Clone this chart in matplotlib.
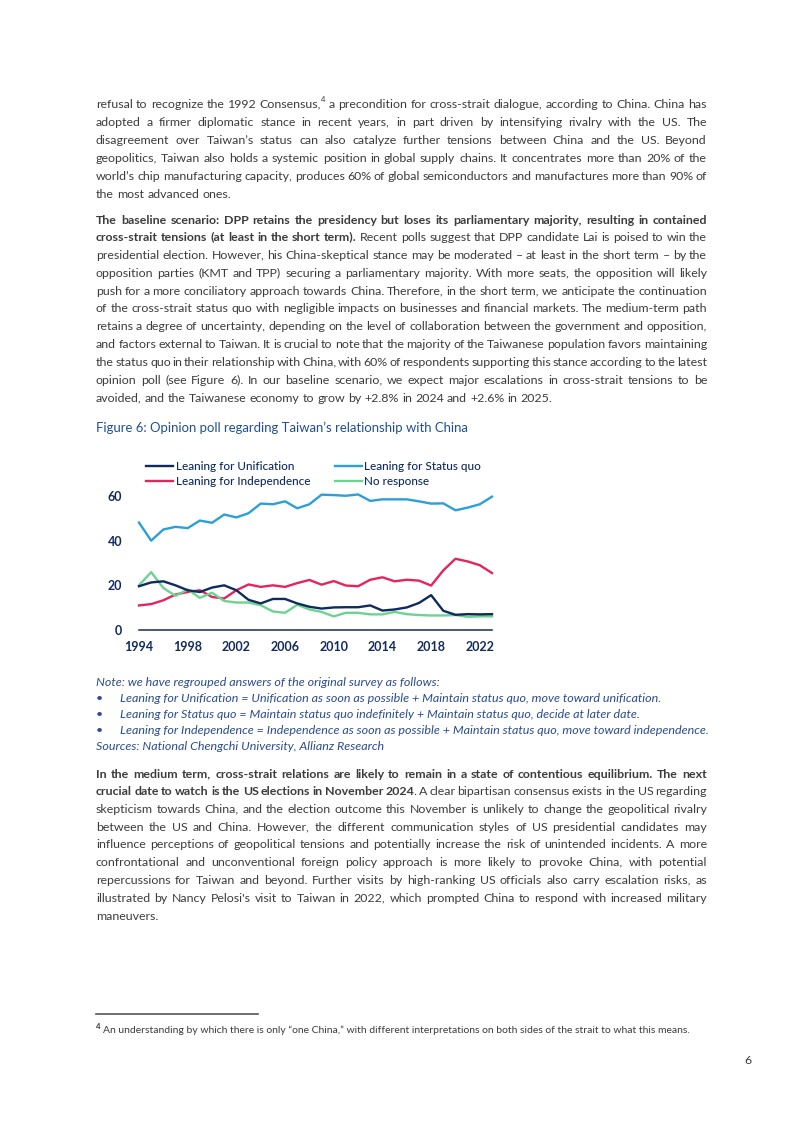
import math
import matplotlib
matplotlib.use('Agg')
import matplotlib.pyplot as plt
from matplotlib.font_manager import FontProperties

# ---------------- data ----------------
years = list(range(1994, 2024))
unification = [19.6, 21.3, 21.8, 20.0, 17.8, 17.0, 19.0, 20.0, 17.8, 13.5,
               11.9, 13.9, 13.9, 11.9, 10.4, 9.6, 10.1, 10.2, 10.2, 11.0,
               8.7, 9.2, 10.1, 12.1, 15.6, 8.6, 6.8, 7.1, 7.0, 7.1]
status_quo = [48.1, 40.0, 45.0, 46.2, 45.6, 49.0, 48.0, 51.7, 50.4, 52.3,
              56.6, 56.3, 57.6, 54.5, 56.3, 60.6, 60.4, 60.1, 60.7, 57.8,
              58.5, 58.5, 58.5, 57.6, 56.6, 56.7, 53.6, 54.8, 56.3, 59.7]
independence = [11.0, 11.6, 13.3, 15.9, 17.0, 17.8, 14.8, 14.1, 17.8, 20.4,
                19.3, 20.0, 19.3, 21.0, 22.4, 20.3, 21.9, 19.9, 19.6, 22.5,
                23.6, 21.8, 22.5, 22.1, 19.9, 26.7, 31.9, 30.7, 29.0, 25.5]
no_response = [20.0, 25.9, 18.8, 15.3, 18.1, 14.4, 16.7, 13.0, 12.3, 12.3,
               11.1, 8.3, 7.7, 11.3, 9.2, 8.1, 6.1, 7.7, 7.7, 7.0,
               7.0, 8.1, 7.1, 6.7, 6.5, 6.5, 6.7, 5.9, 6.1, 6.1]
series_labels = ['Leaning for Unification', 'Leaning for Independence',
                 'Leaning for Status quo', 'No response']
x_ticks = [1994, 1998, 2002, 2006, 2010, 2014, 2018, 2022]
y_ticks = [0, 20, 40, 60]

para1 = [
    "refusal to recognize the 1992 Consensus,^4^ a precondition for cross-strait dialogue, according to China. China has",
    "adopted a firmer diplomatic stance in recent years, in part driven by intensifying rivalry with the US. The",
    "disagreement over Taiwan\u2019s status can also catalyze further tensions between China and the US. Beyond",
    "geopolitics, Taiwan also holds a systemic position in global supply chains. It concentrates more than 20% of the",
    "world\u2019s chip manufacturing capacity, produces 60% of global semiconductors and manufactures more than 90% of",
    "the most advanced ones.",
]
para2 = [
    "**The baseline scenario: DPP retains the presidency but loses its parliamentary majority, resulting in contained**",
    "**cross-strait tensions (at least in the short term).** Recent polls suggest that DPP candidate Lai is poised to win the",
    "presidential election. However, his China-skeptical stance may be moderated \u2013 at least in the short term \u2013 by the",
    "opposition parties (KMT and TPP) securing a parliamentary majority. With more seats, the opposition will likely",
    "push for a more conciliatory approach towards China. Therefore, in the short term, we anticipate the continuation",
    "of the cross-strait status quo with negligible impacts on businesses and financial markets. The medium-term path",
    "retains a degree of uncertainty, depending on the level of collaboration between the government and opposition,",
    "and factors external to Taiwan. It is crucial to note that the majority of the Taiwanese population favors maintaining",
    "the status quo in their relationship with China, with 60% of respondents supporting this stance according to the latest",
    "opinion poll (see Figure 6). In our baseline scenario, we expect major escalations in cross-strait tensions to be",
    "avoided, and the Taiwanese economy to grow by +2.8% in 2024 and +2.6% in 2025.",
]
para3 = [
    "**In the medium term, cross-strait relations are likely to remain in a state of contentious equilibrium. The next**",
    "**crucial date to watch is the US elections in November 2024**. A clear bipartisan consensus exists in the US regarding",
    "skepticism towards China, and the election outcome this November is unlikely to change the geopolitical rivalry",
    "between the US and China. However, the different communication styles of US presidential candidates may",
    "influence perceptions of geopolitical tensions and potentially increase the risk of unintended incidents. A more",
    "confrontational and unconventional foreign policy approach is more likely to provoke China, with potential",
    "repercussions for Taiwan and beyond. Further visits by high-ranking US officials also carry escalation risks, as",
    "illustrated by Nancy Pelosi's visit to Taiwan in 2022, which prompted China to respond with increased military",
    "maneuvers.",
]
fig_title = "Figure 6: Opinion poll regarding Taiwan\u2019s relationship with China"
note_head = "Note: we have regrouped answers of the original survey as follows:"
note_bullets = [
    "Leaning for Unification = Unification as soon as possible + Maintain status quo, move toward unification.",
    "Leaning for Status quo = Maintain status quo indefinitely + Maintain status quo, decide at later date.",
    "Leaning for Independence = Independence as soon as possible + Maintain status quo, move toward independence.",
]
sources = "Sources: National Chengchi University, Allianz Research"
footnote = "An understanding by which there is only \u201cone China,\u201d with different interpretations on both sides of the strait to what this means."

# ---------------- styles ----------------
FAM = 'Lato'
TEXT_C = '#3c3c3c'
NAVY = '#122b5f'
NOTE_C = '#2c4c8c'
TITLE_C = '#1f4f92'
C_UNI = '#0f2a5f'
C_SQ = '#2a9fd8'
C_IND = '#e6245c'
C_NR = '#6cd390'

fig = plt.figure(figsize=(8.02, 11.33), dpi=100)
page = fig.add_axes([0, 0, 1, 1])
page.set_xlim(0, 802)
page.set_ylim(1133, 0)
page.axis('off')
renderer = fig.canvas.get_renderer()


def fp(size, weight='normal', style='normal'):
    return FontProperties(family=FAM, size=size, weight=weight, style=style)


def metrics(s, prop):
    return renderer.get_text_width_height_descent(s, prop, ismath=False)


def width(s, prop):
    return metrics(s, prop)[0]


def fit(text, target, weight='normal', style='normal'):
    return 10.0 * target / width(text, fp(10, weight, style))


def put_text(x, y, s, prop, color):
    """Place a one-line text with its baseline on pixel row y, compensating
    the per-string raster rounding so neighbouring words share a baseline."""
    w, h, d = metrics(s, prop)
    Y = int(round(y))
    a = h - d
    err = (round(Y + d) - Y) - math.floor(h + 1e-9) + math.floor(a + 1e-9)
    page.text(x, Y - err, s, fontproperties=prop, color=color,
              va='baseline', ha='left')


def parse(line):
    words, cur, buf = [], [], ''
    bold = sup = False
    i = 0
    while i < len(line):
        if line.startswith('**', i):
            if buf:
                cur.append((buf, bold, sup)); buf = ''
            bold = not bold; i += 2; continue
        c = line[i]
        if c == '^':
            if buf:
                cur.append((buf, bold, sup)); buf = ''
            sup = not sup; i += 1; continue
        if c == ' ':
            if buf:
                cur.append((buf, bold, sup)); buf = ''
            if cur:
                words.append(cur); cur = []
            i += 1; continue
        buf += c; i += 1
    if buf:
        cur.append((buf, bold, sup))
    if cur:
        words.append(cur)
    return words


def piece_prop(bold, sup, size, style):
    return fp(size * 0.62 if sup else size, 'bold' if bold else 'normal', style)


def piece_steps(w, size, style):
    """x offsets of the pieces of one word, and the word's total width."""
    offs, x = [], 0.0
    for j, (t, b, s) in enumerate(w):
        pr = piece_prop(b, s, size, style)
        if j > 0 and t[0] in '.,;:':
            x -= 0.11 * size * 100 / 72  # tuck punctuation against prior run
        offs.append(x)
        x += width(t, pr)
    return offs, x


def natural_width(line, size, style='normal'):
    words = parse(line)
    ws = [piece_steps(w, size, style)[1] for w in words]
    sp = width('a b', fp(size, style=style)) - width('ab', fp(size, style=style))
    return sum(ws) + sp * (len(words) - 1)


def draw_line(line, x0, x1, y, size, color, justify=True, style='normal'):
    words = parse(line)
    steps = [piece_steps(w, size, style) for w in words]
    ws = [st[1] for st in steps]
    sp = width('a b', fp(size, style=style)) - width('ab', fp(size, style=style))
    if justify and len(words) > 1:
        gap = (x1 - x0 - sum(ws)) / (len(words) - 1)
    else:
        gap = sp
    x = x0
    for w, (offs, ww) in zip(words, steps):
        for (t, b, s), off in zip(w, offs):
            pr = piece_prop(b, s, size, style)
            dy = size * 0.42 * 100 / 72 if s else 0
            put_text(x + off, y - dy, t, pr, color)
        x += ww + gap


X0, X1 = 96, 707
just_lines = para1[:-1] + para2[:-1] + para3[:-1]
mean_nat = sum(natural_width(l, 10) for l in just_lines) / len(just_lines)
body_size = 10.0 * (X1 - X0) / mean_nat * 0.99


def draw_para(lines, y0, step):
    for k, ln in enumerate(lines):
        draw_line(ln, X0, X1, y0 + k * step, body_size, TEXT_C,
                  justify=(k < len(lines) - 1))


draw_para(para1, 107.5, 18.0)
draw_para(para2, 223.5, 17.8)
draw_para(para3, 777.5, 17.75)

# figure title
t_size = fit(fig_title, 373)
page.text(X0, 432, fig_title, fontproperties=fp(t_size), color=TITLE_C,
          va='baseline', ha='left')

# note
n_size = fit(note_bullets[2], 588, style='italic')
page.text(X0, 686.5, note_head, fontproperties=fp(n_size, style='italic'),
          color=NOTE_C, va='baseline')
for k, b in enumerate(note_bullets):
    yb = 702.5 + k * 16
    page.text(99, yb, '\u2022', fontproperties=fp(n_size), color=NOTE_C,
              va='baseline', ha='center')
    page.text(120, yb, b, fontproperties=fp(n_size, style='italic'),
              color=NOTE_C, va='baseline')
page.text(X0, 750.5, sources, fontproperties=fp(n_size, style='italic'),
          color=NOTE_C, va='baseline')

# footnote
page.plot([96, 258], [1014, 1014], color='#555555', lw=1.2)
f_size = fit(footnote, 587)
page.text(96, 1029, '4', fontproperties=fp(f_size * 0.75, 'bold'),
          color=TEXT_C, va='baseline')
page.text(103, 1033, footnote, fontproperties=fp(f_size), color=TEXT_C,
          va='baseline')
page.text(748, 1064, '6', fontproperties=fp(body_size), color=TEXT_C,
          va='baseline', ha='center')

# ---------------- chart ----------------
px_per_unit = (630 - 496) / 60.0
ymax = 64
ax = fig.add_axes([139 / 802, 1 - 630 / 1133, (492 - 139) / 802,
                   ymax * px_per_unit / 1133])
ax.set_xlim(1994, 2023)
ax.set_ylim(0, ymax)
ax.patch.set_alpha(0)
lw = 1.7
l_u, = ax.plot(years, unification, color=C_UNI, lw=lw, clip_on=False)
l_i, = ax.plot(years, independence, color=C_IND, lw=lw, clip_on=False)
l_s, = ax.plot(years, status_quo, color=C_SQ, lw=lw, clip_on=False)
l_n, = ax.plot(years, no_response, color=C_NR, lw=lw, clip_on=False)
l_u.set_zorder(3)

for s in ['top', 'right', 'left']:
    ax.spines[s].set_visible(False)
ax.spines['bottom'].set_color(NAVY)
ax.spines['bottom'].set_linewidth(1.1)
tick_size = 9.0
ax.set_xticks(x_ticks)
ax.set_xticklabels([str(v) for v in x_ticks])
ax.set_yticks(y_ticks)
ax.set_yticklabels([str(v) for v in y_ticks])
ax.tick_params(axis='both', length=0, colors=NAVY)
ax.tick_params(axis='x', pad=8)
ax.tick_params(axis='y', pad=12)
for lab in ax.get_xticklabels() + ax.get_yticklabels():
    lab.set_fontproperties(fp(tick_size, 'bold'))
    lab.set_color(NAVY)

leg_size = fit(series_labels[0], 119, weight='medium')
leg_px = leg_size * 100 / 72
leg = ax.legend([l_u, l_i, l_s, l_n], series_labels, ncol=2, frameon=False,
                loc='upper left', bbox_to_anchor=(146 / 802, 1 - 461 / 1133),
                bbox_transform=fig.transFigure, borderpad=0, borderaxespad=0,
                handlelength=27 / leg_px, handletextpad=3 / leg_px,
                columnspacing=24 / leg_px, labelspacing=0.2 + 2.0 / leg_px,
                prop=fp(leg_size, 'medium'))
for t in leg.get_texts():
    t.set_color(NAVY)

fig.savefig('out.png', dpi=100)
